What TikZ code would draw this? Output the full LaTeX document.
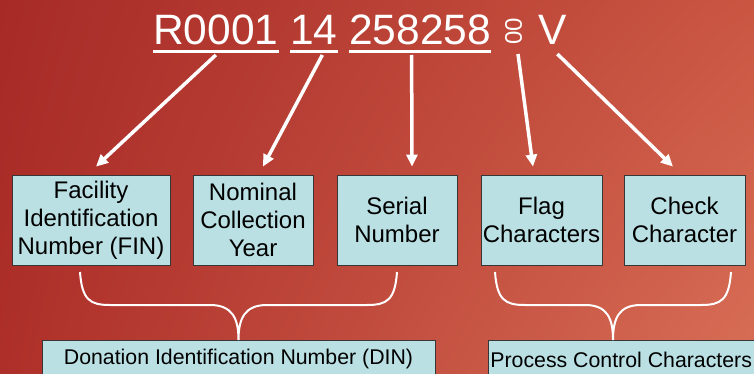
\documentclass[tikz,border=0pt]{standalone}
\usepackage{fontspec}
\setmainfont{Liberation Sans}
\usepackage{tikz}
\usetikzlibrary{arrows.meta}
\usetikzlibrary{shadings}
\definecolor{boxfill}{RGB}{186,224,227}
\definecolor{boxline}{RGB}{55,55,55}
\definecolor{bgul}{RGB}{167,42,39}
\definecolor{bgur}{RGB}{202,86,66}
\definecolor{bgll}{RGB}{174,47,41}
\definecolor{bglr}{RGB}{216,111,87}
\tikzset{ field_box/.style = {rectangle, draw=boxline, fill=boxfill, line width=0.8pt, align=center, inner sep=0pt, minimum height=90pt, font=\fontsize{24}{28}\selectfont} }
\tikzset{ group_box/.style = {rectangle, draw=boxline, fill=boxfill, line width=0.8pt, inner xsep=2pt, minimum height=38pt, font=\fontsize{21.3}{24}\selectfont} }
\tikzset{ code_txt/.style = {text=white, inner sep=0pt, font=\fontsize{42.5}{44}\selectfont} }
\tikzset{ white_arrow/.style = {draw=white, line width=3.5pt, -{Triangle[length=12pt,width=11pt]}} }
\tikzset{ under_line/.style = {draw=white, line width=3pt} }
\tikzset{ brace_line/.style = {draw=white, line width=2pt} }

\begin{document}
\begin{tikzpicture}[x=1pt, y=-1pt]
                        \useasboundingbox (0,0) rectangle (754,374);
                        \shade[upper left=bgul, upper right=bgur, lower left=bgll, lower right=bglr] (0,0) rectangle (754,374);
                        % the code
                        \node[code_txt, anchor=base west] (fac) at (153,45) {R0001};
                        \node[code_txt, anchor=base west] (yr) at (290,45) {14};
                        \node[code_txt, anchor=base west] (ser) at (349,45) {258258};
                        \node[code_txt, font=\fontsize{24}{24}\selectfont, rotate=90] (flg) at (513.5,31.5) {00};
                        \node[code_txt, anchor=base west] (chk) at (538,45) {V};
                        \draw[under_line] ([yshift=-7pt]fac.base west) -- ([yshift=-7pt]fac.base east);
                        \draw[under_line] ([yshift=-7pt]yr.base west) -- ([yshift=-7pt]yr.base east);
                        \draw[under_line] ([yshift=-7pt]ser.base west) -- ([yshift=-7pt]ser.base east);
                        % the fields
                        \node[field_box, minimum width=158pt] (fin) at (91,220) {Facility\\Identification\\Number (FIN)};
                        \node[field_box, minimum width=120pt] (nom) at (253,220) {Nominal\\Collection\\Year};
                        \node[field_box, minimum width=120pt] (num) at (397,220) {Serial\\Number};
                        \node[field_box, minimum width=121pt] (flag) at (541.5,220) {Flag\\Characters};
                        \node[field_box, minimum width=121pt] (check) at (684.5,220) {Check\\Character};
                        \draw[white_arrow] ([yshift=-10pt]fac.base) -- ([xshift=5pt,yshift=8pt]fin.north);
                        \draw[white_arrow] ([xshift=8.5pt,yshift=-10pt]yr.base) -- ([xshift=10pt,yshift=8pt]nom.north);
                        \draw[white_arrow] ([xshift=-8.5pt,yshift=-10pt]ser.base) -- ([xshift=15pt,yshift=8pt]num.north);
                        \draw[white_arrow] ([xshift=4.5pt,yshift=-22.5pt]flg.center) -- ([xshift=-8.5pt,yshift=8pt]flag.north);
                        \draw[white_arrow] ([xshift=5pt,yshift=-9pt]chk.base) -- ([xshift=-11.5pt,yshift=8pt]check.north);
                        % the groups
                        \node[group_box, minimum width=393pt, anchor=north] (din) at (238.5,340) {Donation Identification Number (DIN)};
                        \node[group_box, anchor=north west] (pcc) at (488,340) {Process Control Characters};
                        \draw[brace_line] (80,272) .. controls (82,300) and (90,305) .. (110,305) -- (210,305)
                              .. controls (232,305) and (238.5,318) .. (din.north)
                              .. controls (238.5,318) and (245,305) .. (267,305) -- (367,305)
                              .. controls (387,305) and (395,300) .. (397,272);
                        \draw[brace_line] (495,272) .. controls (497,300) and (505,305) .. (525,305) -- (585,305)
                              .. controls (607,305) and (613,318) .. (613,340)
                              .. controls (613,318) and (619,305) .. (641,305) -- (701,305)
                              .. controls (721,305) and (729,300) .. (731,272);
                \end{tikzpicture}
\end{document}
